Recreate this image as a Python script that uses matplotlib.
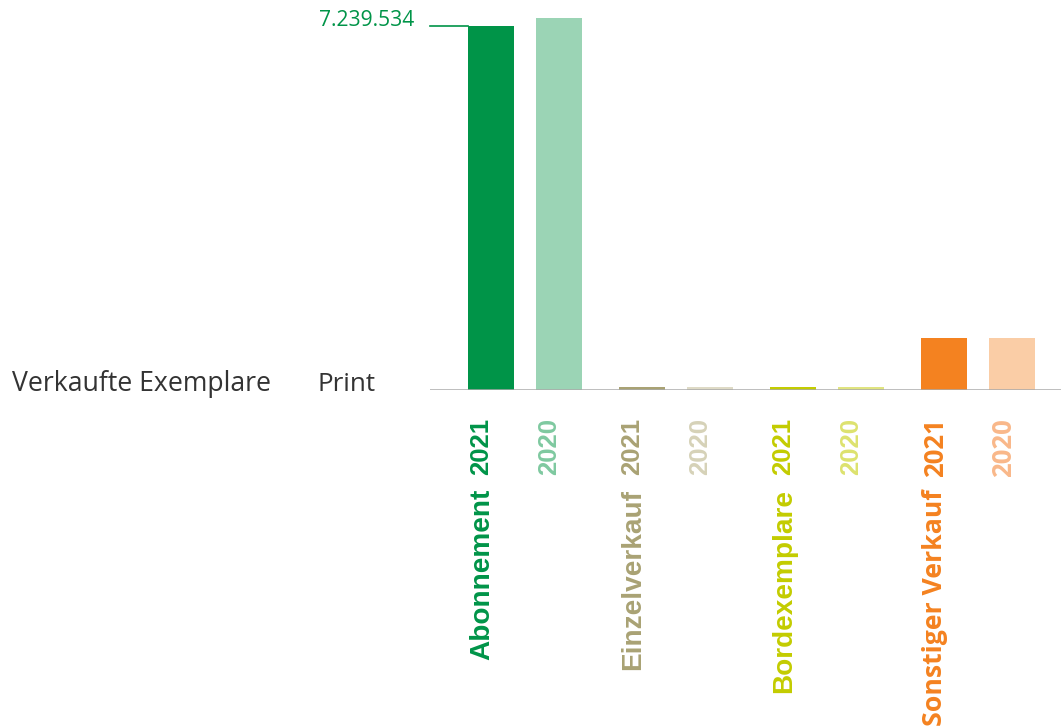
import matplotlib.pyplot as plt

# sold copies, print
categories = ["Abonnement", "Einzelverkauf", "Bordexemplare", "Sonstiger Verkauf"]
years = ["2021", "2020"]
values_2021 = [7239534, 62000, 58000, 1034000]
values_2020 = [7400000, 55000, 50000, 1030000]
value_label = "7.239.534"

colors_2021 = ["#009448", "#A9A274", "#C3CC00", "#F48220"]
colors_2020 = ["#9BD4B5", "#DEDAC6", "#E0E480", "#FACDA6"]
text_2020 = ["#7FC9A0", "#D6D2B8", "#DDE26E", "#F9B88A"]

W, H = 1061, 728
fig = plt.figure(figsize=(W / 100, H / 100), dpi=100)
ax = fig.add_axes([430 / W, (H - 390) / H, 1 - 430 / W, 390 / H])

unit = 68.0               # px between bars of one group
group_gap = 151.0 / unit  # distance between groups in bar units
bar_w = 46.0 / unit

pos_2021 = [g * group_gap for g in range(len(categories))]
pos_2020 = [p + 1 for p in pos_2021]

ax.bar(pos_2021, values_2021, width=bar_w, color=colors_2021)
ax.bar(pos_2020, values_2020, width=bar_w, color=colors_2020)

x0 = -61.0 / unit
ax.set_xlim(x0, x0 + (W - 430) / unit)
ax.set_ylim(0, values_2021[0] * 390 / 364)
ax.axis("off")

# baseline
ax.axhline(0, color="#AAAAAA", lw=1.8, zorder=3)

# value label of the largest bar
ax.plot([x0, pos_2021[0] - bar_w / 2], [values_2021[0]] * 2, color="#009448", lw=1.2,
        clip_on=False)
ax.annotate(value_label, xy=(x0, values_2021[0]), xytext=(-16, 0),
            textcoords="offset pixels", ha="right", va="baseline",
            fontsize=15.1, family="Open Sans", color="#009448")

# rotated labels under the bars
for i, cat in enumerate(categories):
    fam = "Open Sans" if i == 3 else "Liberation Sans"
    csize = 19.2 if i == 3 else 20.2
    left21 = pos_2021[i] - bar_w / 2 + 1 / unit
    left20 = pos_2020[i] - bar_w / 2 + 1 / unit
    ax.annotate(years[0], xy=(left21, 0), xytext=(0, -28), textcoords="offset pixels",
                rotation=90, ha="left", va="top", fontsize=18.5, fontweight="bold",
                family=fam, color=colors_2021[i], annotation_clip=False)
    ax.annotate(years[1], xy=(left20, 0), xytext=(0, -28), textcoords="offset pixels",
                rotation=90, ha="left", va="top", fontsize=18.5, fontweight="bold",
                family=fam, color=text_2020[i], annotation_clip=False)
    ax.annotate(cat, xy=(left21, 0), xytext=(0, -99), textcoords="offset pixels",
                rotation=90, ha="left", va="top", fontsize=csize, fontweight="bold",
                family=fam, color=colors_2021[i], annotation_clip=False)

fig.text(12 / W, (H - 391) / H, "Verkaufte Exemplare", fontsize=19.2, family="Open Sans",
         color="#333333", va="baseline")
fig.text(318 / W, (H - 391) / H, "Print", fontsize=18.7, family="Open Sans",
         color="#333333", va="baseline")

fig.savefig("out.png", dpi=100)
